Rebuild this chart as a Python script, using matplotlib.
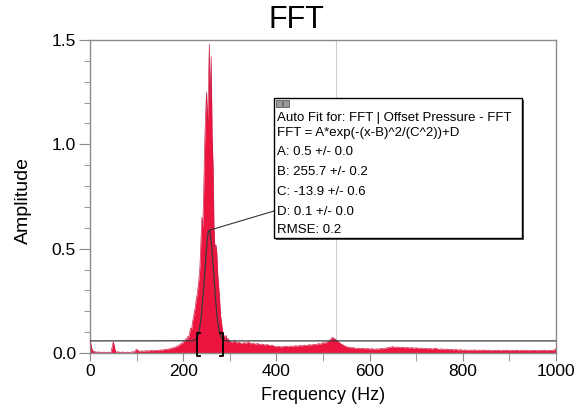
"""Recreate the Logger Pro style FFT plot with its Gaussian auto-fit box."""

from __future__ import annotations

import numpy as np
from matplotlib import pyplot as plt
from matplotlib.patches import Rectangle
from matplotlib.ticker import FormatStrFormatter, MultipleLocator

plt.rcParams["font.family"] = ["Liberation Sans", "DejaVu Sans"]

FIG_W, FIG_H = 580, 411

# spectrum amplitudes
LOW_FREQ_HZ = np.arange(0, 200, 5)
LOW_AMP = [
    0.06, 0.012, 0.006, 0.004, 0.005, 0.003, 0.004, 0.003, 0.004, 0.003,
    0.055, 0.004, 0.006, 0.003, 0.005, 0.003, 0.004, 0.003, 0.005, 0.006,
    0.018, 0.008, 0.010, 0.009, 0.011, 0.010, 0.012, 0.011, 0.013, 0.012,
    0.015, 0.014, 0.017, 0.018, 0.020, 0.023, 0.026, 0.030, 0.036, 0.045,
]
PEAK_FREQ_HZ = np.arange(200, 300, 2)
PEAK_AMP = [
    0.05, 0.06, 0.055, 0.07, 0.065, 0.08, 0.075, 0.10, 0.12, 0.11,
    0.15, 0.17, 0.20, 0.22, 0.26, 0.28, 0.32, 0.36, 0.42, 0.54,
    0.65, 0.60, 0.78, 1.00, 1.14, 1.25, 1.10, 1.26, 1.48, 1.20,
    1.42, 1.04, 0.90, 0.60, 0.50, 0.52, 0.48, 0.38, 0.32, 0.26,
    0.18, 0.15, 0.11, 0.09, 0.08, 0.07, 0.085, 0.065, 0.07, 0.06,
]
HIGH_FREQ_HZ = np.arange(300, 1001, 5)
HIGH_AMP = [
    0.055, 0.050, 0.058, 0.048, 0.052, 0.045, 0.050, 0.047, 0.053, 0.044,
    0.048, 0.042, 0.046, 0.040, 0.043, 0.038, 0.041, 0.036, 0.038, 0.033,
    0.030, 0.032, 0.029, 0.031, 0.033, 0.030, 0.034, 0.031, 0.035, 0.033,
    0.036, 0.034, 0.038, 0.036, 0.040, 0.038, 0.042, 0.040, 0.045, 0.043,
    0.050, 0.048, 0.055, 0.062, 0.075, 0.068, 0.060, 0.050, 0.042, 0.036,
    0.030, 0.028, 0.025, 0.026, 0.022, 0.024, 0.021, 0.023, 0.020, 0.022,
    0.019, 0.021, 0.018, 0.020, 0.019, 0.022, 0.020, 0.024, 0.026, 0.028,
    0.030, 0.027, 0.029, 0.026, 0.028, 0.025, 0.027, 0.024, 0.026, 0.023,
    0.025, 0.022, 0.024, 0.021, 0.023, 0.020, 0.022, 0.019, 0.024, 0.020,
    0.018, 0.020, 0.017, 0.019, 0.016, 0.018, 0.015, 0.017, 0.014, 0.016,
    0.013, 0.015, 0.012, 0.014, 0.013, 0.015, 0.012, 0.014, 0.013, 0.015,
    0.012, 0.014, 0.011, 0.013, 0.012, 0.014, 0.011, 0.013, 0.012, 0.014,
    0.011, 0.013, 0.012, 0.014, 0.011, 0.013, 0.012, 0.014, 0.011, 0.013,
    0.012, 0.013, 0.011, 0.013, 0.012, 0.014, 0.011, 0.013, 0.012, 0.014,
    0.020,
]

# Gaussian fit parameters (A, B, C, D) and fit range
FIT_A, FIT_B, FIT_C, FIT_D = 0.53, 255.7, 13.9, 0.058
FIT_RANGE_HZ = (229.0, 285.0)
CURSOR_HZ = 528.0

FIT_LINES = [
    "Auto Fit for: FFT | Offset Pressure - FFT",
    "FFT = A*exp(-(x-B)^2/(C^2))+D",
    "A: 0.5 +/- 0.0",
    "B: 255.7 +/- 0.2",
    "C: -13.9 +/- 0.6",
    "D: 0.1 +/- 0.0",
    "RMSE: 0.2",
]
FIT_LINE_Y_PX = [118, 133, 152, 172, 192, 212, 230]

RED = "#ec1540"
RED_EDGE = "#c81c44"
GRAY = "#8a8a8a"


def fx(x_px: float) -> float:
    return x_px / FIG_W


def fy(y_px: float) -> float:
    return 1 - y_px / FIG_H


def main() -> int:
    freq = np.concatenate([LOW_FREQ_HZ, PEAK_FREQ_HZ, HIGH_FREQ_HZ])
    amp = np.concatenate([LOW_AMP, PEAK_AMP, HIGH_AMP])

    fig = plt.figure(figsize=(FIG_W / 100, FIG_H / 100), dpi=100)
    ax = fig.add_axes([fx(90), fy(353), fx(556) - fx(90), fy(40) - fy(353)])

    # examine cursor
    ax.plot([CURSOR_HZ, CURSOR_HZ], [FIT_D, 1.5], color="#cfcfcf", lw=0.8, zorder=1)

    ax.fill_between(freq, 0, amp, color=RED, lw=0, zorder=2)
    ax.plot(freq, amp, color=RED_EDGE, lw=0.45, zorder=3)

    # fit curve over the whole axis
    x_fit = np.linspace(0, 1000, 2001)
    y_fit = FIT_A * np.exp(-((x_fit - FIT_B) ** 2) / FIT_C**2) + FIT_D
    ax.plot(x_fit, y_fit, color="#3a3a3a", lw=0.9, zorder=4)

    # fit range brackets
    lo, hi = FIT_RANGE_HZ
    arm = 6.0
    ax.plot([lo + arm, lo, lo, lo + arm], [0.096, 0.096, -0.012, -0.012],
            color="black", lw=1.3, clip_on=False, zorder=5)
    ax.plot([hi - arm, hi, hi, hi - arm], [0.096, 0.096, -0.012, -0.012],
            color="black", lw=1.3, clip_on=False, zorder=5)

    ax.set_xlim(0, 1000)
    ax.set_ylim(0, 1.5)
    ax.xaxis.set_major_locator(MultipleLocator(200))
    ax.xaxis.set_minor_locator(MultipleLocator(100))
    ax.yaxis.set_major_locator(MultipleLocator(0.5))
    ax.yaxis.set_minor_locator(MultipleLocator(0.1))
    ax.yaxis.set_major_formatter(FormatStrFormatter("%.1f"))
    ax.tick_params(which="both", direction="out", color=GRAY, labelsize=12.5, pad=2)
    ax.tick_params(axis="y", which="major", length=8)
    ax.tick_params(axis="y", which="minor", length=4)
    ax.tick_params(axis="x", which="both", length=6)
    for spine in ax.spines.values():
        spine.set_color(GRAY)
        spine.set_linewidth(1.0)

    fig.text(fx(296), fy(20), "FFT", fontsize=22, ha="center", va="center")
    fig.text(fx(23), fy(200), "Amplitude", fontsize=14, rotation=90,
             ha="center", va="center")
    fig.text(fx(323), fy(395), "Frequency (Hz)", fontsize=13,
             ha="center", va="center")

    # auto fit box with shadow
    bx0, by0, bx1, by1 = 274, 98, 522, 238
    fig.patches.append(Rectangle((fx(bx0 + 2), fy(by1 + 2)), fx(bx1 - bx0), fy(by0) - fy(by1),
                                 transform=fig.transFigure, facecolor="#555555",
                                 edgecolor="none", zorder=6))
    fig.patches.append(Rectangle((fx(bx0), fy(by1)), fx(bx1 - bx0), fy(by0) - fy(by1),
                                 transform=fig.transFigure, facecolor="white",
                                 edgecolor="black", lw=1.0, zorder=7))
    for ix in (276, 283):
        fig.patches.append(Rectangle((fx(ix), fy(107)), fx(6), fy(100) - fy(107),
                                     transform=fig.transFigure, facecolor="#9a9a9a",
                                     edgecolor="#444444", lw=0.5, zorder=8))
    for line, y_px in zip(FIT_LINES, FIT_LINE_Y_PX):
        fig.text(fx(277), fy(y_px), line, fontsize=9.5, ha="left", va="center",
                 zorder=9)

    ax.annotate("", xy=(FIT_B, FIT_A + FIT_D), xycoords="data",
                xytext=(fx(bx0), fy(211)), textcoords="figure fraction",
                arrowprops=dict(arrowstyle="-", lw=0.8, color="#333333",
                                shrinkA=0, shrinkB=0), zorder=5)

    fig.savefig("out.png", dpi=100)
    return 0


if __name__ == "__main__":
    raise SystemExit(main())
